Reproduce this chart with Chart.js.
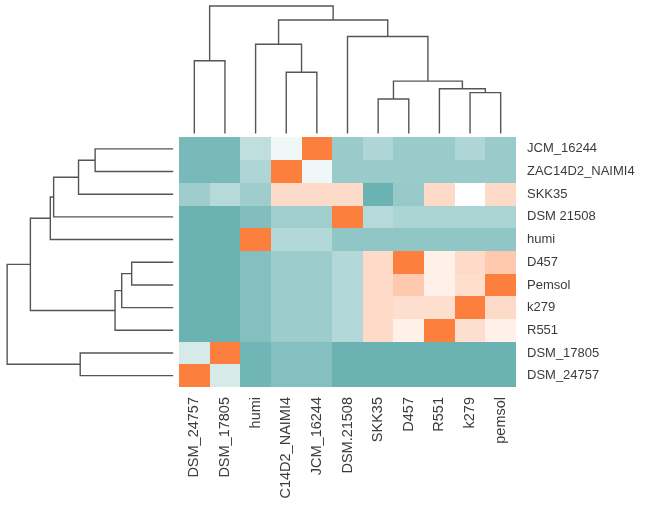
<!DOCTYPE html>
<html>
<head>
<meta charset="utf-8">
<script src="https://cdn.jsdelivr.net/npm/chart.js@4.4.1/dist/chart.umd.min.js"></script>
<style>
  body { margin: 0; background: #fff; }
  canvas { display: block; }
</style>
</head>
<body>
<canvas id="heatmap" width="645" height="508"></canvas>
<script>
// Column and row order after clustering
const colLabels = ['DSM_24757', 'DSM_17805', 'humi', 'C14D2_NAIMI4', 'JCM_16244', 'DSM.21508', 'SKK35', 'D457', 'R551', 'k279', 'pemsol'];
const rowLabels = ['JCM_16244', 'ZAC14D2_NAIMI4', 'SKK35', 'DSM 21508', 'humi', 'D457', 'Pemsol', 'k279', 'R551', 'DSM_17805', 'DSM_24757'];

// Cell values, -1 = dark teal, 0 = white, 1 = orange (one array per row)
const cellValues = [
  [-0.88, -0.88, -0.42, -0.10, 1.00, -0.66, -0.52, -0.66, -0.66, -0.52, -0.66],
  [-0.88, -0.88, -0.52, 1.00, -0.10, -0.66, -0.66, -0.66, -0.66, -0.66, -0.66],
  [-0.63, -0.48, -0.63, 0.28, 0.28, 0.28, -0.97, -0.68, 0.28, 0.00, 0.28],
  [-0.97, -0.97, -0.82, -0.62, -0.62, 1.00, -0.48, -0.55, -0.55, -0.55, -0.55],
  [-0.97, -0.97, 1.00, -0.50, -0.50, -0.72, -0.72, -0.72, -0.72, -0.72, -0.72],
  [-0.97, -0.97, -0.80, -0.64, -0.64, -0.50, 0.28, 1.00, 0.12, 0.28, 0.42],
  [-0.97, -0.97, -0.80, -0.64, -0.64, -0.50, 0.28, 0.42, 0.12, 0.26, 1.00],
  [-0.97, -0.97, -0.80, -0.64, -0.64, -0.50, 0.28, 0.25, 0.25, 1.00, 0.28],
  [-0.97, -0.97, -0.80, -0.64, -0.64, -0.50, 0.28, 0.12, 1.00, 0.25, 0.12],
  [-0.26, 1.00, -0.93, -0.80, -0.80, -0.97, -0.97, -0.97, -0.97, -0.97, -0.97],
  [1.00, -0.26, -0.93, -0.80, -0.80, -0.97, -0.97, -0.97, -0.97, -0.97, -0.97]
];

// Merges: [left, right, height]; numbers are leaves, 'mK' is the K-th merge
const colTree = [
  [0, 1, 0.57],
  [3, 4, 0.48],
  [2, 'm1', 0.70],
  [6, 7, 0.27],
  [9, 10, 0.32],
  [8, 'm4', 0.35],
  ['m3', 'm5', 0.41],
  [5, 'm6', 0.76],
  ['m2', 'm7', 0.89],
  ['m0', 'm8', 1.00]
];
const rowTree = [
  [0, 1, 0.47],
  ['m0', 2, 0.57],
  ['m1', 3, 0.72],
  ['m2', 4, 0.74],
  [5, 6, 0.25],
  ['m4', 7, 0.31],
  ['m5', 8, 0.35],
  ['m3', 'm6', 0.86],
  [9, 10, 0.56],
  ['m7', 'm8', 1.00]
];

// where the dendrograms sit, in axis units
const TOP_BASE = -0.18, TOP_SPAN = 5.62;
const LEFT_BASE = -0.19, LEFT_SPAN = 5.42;

const TEAL = [102, 176, 176];
const ORANGE = [252, 127, 62];
const labelFont = { family: "'Liberation Sans', Arial, sans-serif" };

function cellColor(v) {
  const end = v < 0 ? TEAL : ORANGE;
  const t = Math.min(Math.abs(v), 1);
  const c = end.map(e => Math.round(255 + (e - 255) * t));
  return 'rgb(' + c.join(',') + ')';
}

// Turn merge list into line points (U shapes separated by gaps)
function dendroPoints(tree, toXY) {
  const nodes = {};
  const pts = [];
  const node = ref => typeof ref === 'number' ? { pos: ref + 0.5, h: 0 } : nodes[ref];
  tree.forEach((m, k) => {
    const a = node(m[0]), b = node(m[1]), h = m[2];
    pts.push(toXY(a.pos, a.h), toXY(a.pos, h), toXY(b.pos, h), toXY(b.pos, b.h));
    pts.push({ x: null, y: null });
    nodes['m' + k] = { pos: (a.pos + b.pos) / 2, h: h };
  });
  return pts;
}

// Heatmap cells drawn through the chart scales
const heatmapCells = {
  id: 'heatmapCells',
  beforeDatasetsDraw(chart) {
    const { ctx, scales: { x, y } } = chart;
    ctx.save();
    cellValues.forEach((row, r) => {
      row.forEach((v, c) => {
        const x0 = Math.round(x.getPixelForValue(c));
        const x1 = Math.round(x.getPixelForValue(c + 1));
        const y0 = Math.round(y.getPixelForValue(r));
        const y1 = Math.round(y.getPixelForValue(r + 1));
        ctx.fillStyle = cellColor(v);
        ctx.fillRect(x0, y0, x1 - x0, y1 - y0);
      });
    });
    ctx.restore();
  }
};

const lineStyle = {
  showLine: true,
  spanGaps: false,
  borderColor: '#555555',
  borderWidth: 1.4,
  pointRadius: 0,
  pointHoverRadius: 0
};

new Chart(document.getElementById('heatmap'), {
  type: 'scatter',
  data: {
    datasets: [
      Object.assign({ label: 'columns', data: dendroPoints(colTree, (p, h) => ({ x: p, y: TOP_BASE - h * TOP_SPAN })) }, lineStyle),
      Object.assign({ label: 'rows', data: dendroPoints(rowTree, (p, h) => ({ x: LEFT_BASE - h * LEFT_SPAN, y: p })) }, lineStyle)
    ]
  },
  options: {
    responsive: false,
    animation: false,
    layout: { padding: 0 },
    plugins: { legend: { display: false }, tooltip: { enabled: false } },
    scales: {
      x: {
        type: 'linear',
        position: 'bottom',
        min: -5.843,
        max: 11,
        grid: { display: false, drawTicks: false },
        border: { display: false },
        afterBuildTicks: s => { s.ticks = colLabels.map((_, i) => ({ value: i + 0.5 })); },
        afterFit: s => { s.height = 121; s.paddingLeft = 0; s.paddingRight = 0; },
        ticks: {
          autoSkip: false,
          minRotation: 90,
          maxRotation: 90,
          padding: 10,
          color: '#3c3c3c',
          font: Object.assign({ size: 14.5 }, labelFont),
          callback: (v, i) => colLabels[i]
        }
      },
      y: {
        type: 'linear',
        position: 'right',
        reverse: true,
        min: -6.062,
        max: 11,
        grid: { display: false, drawTicks: false },
        border: { display: false },
        afterBuildTicks: s => { s.ticks = rowLabels.map((_, i) => ({ value: i + 0.5 })); },
        afterFit: s => { s.width = 129; s.paddingTop = 0; s.paddingBottom = 0; },
        ticks: {
          autoSkip: false,
          padding: 11,
          color: '#3c3c3c',
          font: Object.assign({ size: 13 }, labelFont),
          callback: (v, i) => rowLabels[i]
        }
      }
    }
  },
  plugins: [heatmapCells]
});
</script>
</body>
</html>
